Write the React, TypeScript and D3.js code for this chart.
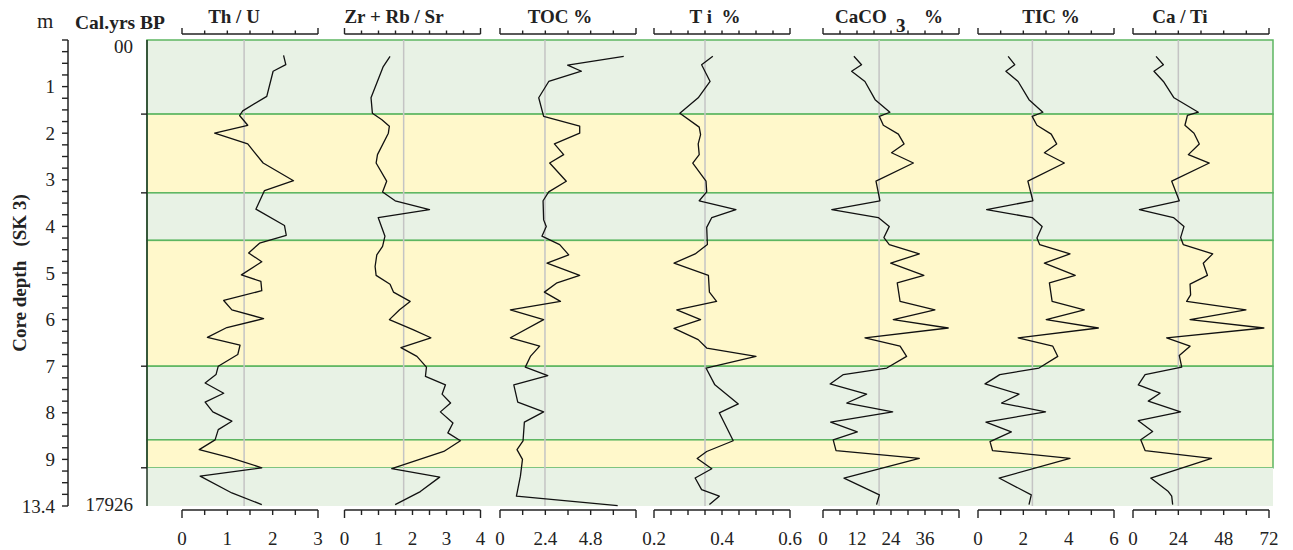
import React from "react";
import * as d3 from "d3";

// depth (m on the plotted scale) , value
const thU: [number, number][] = [
  [0.33, 2.24], [0.53, 2.29], [0.67, 2.01], [1.21, 1.87], [1.52, 1.34], [1.62, 1.27], [1.83, 1.45],
  [2.0, 0.72], [2.23, 1.45], [2.64, 1.79], [3.02, 2.46], [3.23, 1.82], [3.63, 1.63], [3.98, 2.26],
  [4.19, 2.3], [4.36, 1.71], [4.57, 1.47], [4.76, 1.76], [5.04, 1.31], [5.18, 1.74], [5.38, 1.76],
  [5.59, 0.92], [5.79, 1.1], [5.98, 1.8], [6.17, 0.99], [6.38, 0.56], [6.55, 1.28], [6.75, 1.23],
  [7.0, 0.8], [7.18, 0.75], [7.36, 0.51], [7.58, 0.92], [7.77, 0.51], [7.98, 0.68], [8.18, 1.1],
  [8.36, 0.8], [8.58, 0.73], [8.79, 0.38], [8.96, 1.06], [9.18, 1.76], [9.36, 0.4], [9.72, 1.1],
  [9.97, 1.76],
];
const zrRbSr: [number, number][] = [
  [0.35, 1.34], [0.57, 1.14], [1.24, 0.78], [1.57, 0.82], [1.71, 1.1], [1.85, 1.32], [2.0, 1.29],
  [2.46, 0.97], [2.64, 0.93], [3.03, 1.24], [3.26, 1.12], [3.45, 1.49], [3.64, 2.5], [3.81, 0.99],
  [4.21, 1.19], [4.43, 1.12], [4.61, 0.95], [4.86, 0.9], [5.05, 0.93], [5.24, 1.34], [5.41, 1.44],
  [5.61, 1.93], [5.79, 1.62], [6.0, 1.32], [6.22, 2.03], [6.39, 2.54], [6.6, 1.66], [6.79, 2.13],
  [7.02, 2.41], [7.22, 2.38], [7.4, 2.97], [7.6, 2.87], [7.79, 3.12], [7.98, 2.82], [8.22, 3.19],
  [8.43, 3.04], [8.6, 3.41], [8.83, 2.92], [9.2, 1.39], [9.38, 2.8], [9.69, 2.23], [9.97, 1.49],
];
const toc: [number, number][] = [
  [0.35, 6.55], [0.54, 3.58], [0.67, 4.31], [0.89, 2.58], [1.24, 2.05], [1.64, 2.31], [1.85, 4.22],
  [2.0, 4.22], [2.23, 2.88], [2.46, 3.37], [2.64, 2.63], [3.03, 3.51], [3.26, 2.58], [3.45, 2.28],
  [3.86, 2.31], [4.0, 2.45], [4.21, 2.22], [4.39, 3.16], [4.61, 3.64], [4.79, 2.49], [5.05, 4.22],
  [5.21, 3.02], [5.41, 2.35], [5.61, 3.2], [5.79, 0.55], [6.0, 2.31], [6.39, 0.55], [6.57, 2.1],
  [6.79, 1.61], [7.02, 1.34], [7.2, 2.53], [7.4, 0.73], [7.77, 0.94], [7.98, 2.31], [8.2, 1.29],
  [8.6, 1.22], [8.79, 0.9], [9.0, 1.19], [9.36, 1.08], [9.79, 0.87], [9.99, 6.23],
];
const ti: [number, number][] = [
  [0.35, 0.373], [0.53, 0.34], [0.89, 0.365], [1.24, 0.33], [1.57, 0.276], [1.87, 0.333], [2.03, 0.337],
  [2.23, 0.33], [2.46, 0.333], [2.64, 0.314], [3.03, 0.353], [3.26, 0.355], [3.45, 0.333], [3.64, 0.441],
  [3.81, 0.37], [4.02, 0.355], [4.39, 0.357], [4.59, 0.321], [4.79, 0.259], [5.05, 0.36], [5.41, 0.363],
  [5.61, 0.384], [5.79, 0.267], [6.0, 0.337], [6.19, 0.259], [6.43, 0.33], [6.61, 0.355], [6.79, 0.5],
  [7.04, 0.353], [7.4, 0.379], [7.81, 0.448], [8.0, 0.392], [8.6, 0.433], [8.83, 0.355], [8.98, 0.327],
  [9.2, 0.37], [9.4, 0.321], [9.65, 0.34], [9.79, 0.392], [9.97, 0.363],
];
const caco3: [number, number][] = [
  [0.35, 10.9], [0.53, 13.6], [0.67, 10.1], [0.89, 14.8], [1.28, 18.4], [1.55, 23.6], [1.64, 19.9],
  [1.83, 21.3], [2.02, 26.6], [2.23, 28.6], [2.42, 24.2], [2.64, 31.9], [3.03, 18.7], [3.45, 20.1],
  [3.64, 3.1], [3.81, 19.5], [4.0, 23.4], [4.24, 21.5], [4.39, 23.4], [4.59, 34.0], [4.79, 23.9],
  [5.05, 35.6], [5.21, 26.2], [5.61, 27.2], [5.79, 39.5], [6.0, 24.8], [6.18, 44.2], [6.39, 14.8],
  [6.57, 27.2], [6.79, 29.5], [7.04, 22.5], [7.18, 7.2], [7.38, 2.5], [7.6, 15.4], [7.79, 8.4],
  [7.98, 24.6], [8.2, 2.7], [8.41, 12.1], [8.58, 3.6], [8.81, 4.6], [8.98, 34.0], [9.4, 7.4],
  [9.76, 19.9], [9.97, 18.9],
];
const tic: [number, number][] = [
  [0.35, 1.33], [0.53, 1.62], [0.67, 1.23], [0.89, 1.77], [1.28, 2.25], [1.55, 2.86], [1.64, 2.39],
  [1.83, 2.6], [2.02, 3.23], [2.23, 3.47], [2.42, 2.93], [2.64, 3.81], [3.03, 2.2], [3.45, 2.42],
  [3.64, 0.38], [3.81, 2.39], [4.0, 2.83], [4.25, 2.6], [4.39, 2.72], [4.59, 4.06], [4.79, 2.93],
  [5.05, 4.29], [5.21, 3.15], [5.61, 3.27], [5.79, 4.69], [6.0, 3.01], [6.18, 5.31], [6.39, 1.77],
  [6.57, 3.3], [6.79, 3.52], [7.04, 2.69], [7.18, 0.96], [7.38, 0.31], [7.6, 1.81], [7.79, 1.04],
  [7.98, 2.98], [8.2, 0.35], [8.41, 1.47], [8.62, 0.53], [8.81, 0.64], [8.98, 4.06], [9.4, 0.93],
  [9.76, 2.35], [9.97, 2.25],
];
const caTi: [number, number][] = [
  [0.35, 12.2], [0.53, 16.1], [0.67, 11.1], [0.89, 16.1], [1.24, 21.7], [1.55, 34.6], [1.62, 28.8],
  [1.83, 27.5], [2.0, 32.3], [2.23, 35.1], [2.46, 29.3], [2.64, 40.4], [3.03, 20.5], [3.45, 24.5],
  [3.64, 3.4], [3.81, 21.4], [4.0, 27.0], [4.24, 25.2], [4.39, 26.6], [4.59, 42.2], [4.79, 37.2],
  [5.05, 39.4], [5.24, 30.2], [5.47, 30.5], [5.61, 28.4], [5.79, 59.8], [6.0, 30.2], [6.18, 69.3],
  [6.39, 17.8], [6.57, 30.2], [6.77, 24.5], [7.02, 25.8], [7.18, 6.4], [7.4, 2.8], [7.58, 14.3],
  [7.75, 8.1], [7.98, 25.2], [8.17, 2.8], [8.4, 10.4], [8.58, 4.1], [8.81, 6.4], [8.98, 41.6],
  [9.4, 9.4], [9.69, 18.7], [9.79, 20.5], [9.97, 21.0],
];

const series = [thU, zrRbSr, toc, ti, caco3, tic, caTi];
const titles = ["Th / U", "Zr + Rb / Sr", "TOC %", "T i  %", "CaCO", "TIC %", "Ca / Ti"];
const domains: [number, number][] = [[0, 3], [0, 4], [0, 7.2], [0.2, 0.6], [0, 48], [0, 6], [0, 72]];
const tickSteps = [0.5, 0.5, 1.2, 0.05, 6, 1, 12];
const tickLabels = [[0, 1, 2, 3], [0, 1, 2, 3, 4], [0, 2.4, 4.8], [0.2, 0.4, 0.6], [0, 12, 24, 36], [0, 2, 4, 6], [0, 24, 48, 72]];
const meanLines = [1.37, 1.74, 2.38, 0.35, 19.8, 2.4, 24];

// zones (depth boundaries) and their kind
const zoneEdges = [0, 1.59, 3.28, 4.3, 7.0, 8.58, 9.18, 10];
const zoneKinds = ["g", "y", "g", "y", "g", "y", "g"];
const ageTickDepths = [1.59, 3.28, 7.0, 9.18];
const ageLabels = ["00", "17926"];
const depthTicks = [1, 2, 3, 4, 5, 6, 7, 8, 9, 10];
const depthTickLabels = ["1", "2", "3", "4", "5", "6", "7", "8", "9", "13.4"];

const FONT = "'Liberation Serif', 'Times New Roman', serif";
const colX = [182, 344.5, 500, 654, 823, 978, 1133];
const colW = 136;
const titleX = [234, 394, 560, 715, 835, 1051, 1180];
const plotL = 147, plotR = 1273, plotT = 40, plotB = 506;
const GREEN = "#e8f2e5", YELLOW = "#fff8cb", EDGE = "#5db661";

export default function App() {
  const y = d3.scaleLinear().domain([0, 10]).range([plotT, plotB]);
  const minor = d3.range(0, 10.001, 0.25);

  return (
    <svg width={1293} height={550} style={{ position: "absolute", left: 0, top: 0, background: "#fff" }}
      fontFamily={FONT}>
      {/* zones */}
      {zoneKinds.map((k, i) => (
        <rect key={"z" + i} x={plotL} y={y(zoneEdges[i])} width={plotR - plotL}
          height={y(zoneEdges[i + 1]) - y(zoneEdges[i])}
          fill={k === "g" ? GREEN : YELLOW}
          stroke={i === zoneKinds.length - 1 ? "none" : EDGE} strokeWidth={1.5} />
      ))}
      <line x1={plotL} x2={plotL} y1={plotT} y2={plotB} stroke="#1e3322" strokeWidth={1.5} />

      {/* depth axis */}
      <text x={37} y={28} fontSize={21} fill="#222">m</text>
      <text x={75} y={29} fontSize={19.5} fontWeight="bold" fill="#222">Cal.yrs BP</text>
      <line x1={68} x2={68} y1={plotT} y2={plotB} stroke="#222" strokeWidth={1.5} />
      {minor.map((d) => (
        <line key={"m" + d} x1={62} x2={68} y1={y(d)} y2={y(d)} stroke="#222" strokeWidth={1.4} />
      ))}
      {depthTicks.map((d, i) => (
        <text key={"dl" + d} x={55} y={y(d) + 6.5} fontSize={19} textAnchor="end" fill="#222">
          {depthTickLabels[i]}
        </text>
      ))}
      <text transform={`translate(26,${(plotT + plotB) / 2}) rotate(-90)`} textAnchor="middle"
        fontSize={19} fontWeight="bold" fill="#222" style={{ whiteSpace: "pre" }}>
        {"Core depth   (SK 3)"}
      </text>

      {/* age column */}
      <text x={133} y={y(0) + 12.6} fontSize={19} textAnchor="end" fill="#222">{ageLabels[0]}</text>
      <text x={133} y={y(10) + 4.6} fontSize={19} textAnchor="end" fill="#222">{ageLabels[1]}</text>
      {ageTickDepths.map((d) => (
        <line key={"a" + d} x1={141} x2={147} y1={y(d)} y2={y(d)} stroke="#222" strokeWidth={1.4} />
      ))}

      {/* proxy columns */}
      {series.map((data, i) => {
        const x = d3.scaleLinear().domain(domains[i]).range([colX[i], colX[i] + colW]);
        const [lo, hi] = domains[i];
        const ticks = d3.range(lo, hi + tickSteps[i] / 2, tickSteps[i]);
        const line = d3.line<[number, number]>().x((d) => x(d[1])).y((d) => y(d[0]));
        return (
          <g key={"c" + i}>
            <line x1={x(meanLines[i])} x2={x(meanLines[i])} y1={plotT} y2={plotB} stroke="#c4c4c4" strokeWidth={1.5} />
            <path d={line(data) || ""} fill="none" stroke="#111" strokeWidth={1.3} strokeLinejoin="round" />
            {/* top scale */}
            <line x1={x(lo)} x2={x(hi)} y1={34} y2={34} stroke="#222" strokeWidth={1.5} />
            {ticks.map((t, j) => (
              <line key={"tt" + j} x1={x(t)} x2={x(t)} y1={34}
                y2={j === 0 || j === ticks.length - 1 ? 28 : 30.5} stroke="#222" strokeWidth={1.4} />
            ))}
            {/* bottom scale */}
            <line x1={x(lo)} x2={x(hi)} y1={510} y2={510} stroke="#222" strokeWidth={1.5} />
            {ticks.map((t, j) => (
              <line key={"bt" + j} x1={x(t)} x2={x(t)} y1={510}
                y2={j === 0 || j === ticks.length - 1 ? 518 : 515} stroke="#222" strokeWidth={1.4} />
            ))}
            {tickLabels[i].map((t) => (
              <text key={"bl" + t} x={x(t)} y={545} fontSize={19} textAnchor="middle" fill="#222">
                {String(t)}
              </text>
            ))}
            {i === 4 ? (
              <g fontSize={19} fontWeight="bold" fill="#222">
                <text x={titleX[i]} y={23}>{titles[i]}</text>
                <text x={896} y={32}>3</text>
                <text x={924} y={23}>%</text>
              </g>
            ) : (
              <text x={titleX[i]} y={23} fontSize={19} fontWeight="bold" textAnchor="middle" fill="#222"
                style={{ whiteSpace: "pre" }}>
                {titles[i]}
              </text>
            )}
          </g>
        );
      })}
    </svg>
  );
}
